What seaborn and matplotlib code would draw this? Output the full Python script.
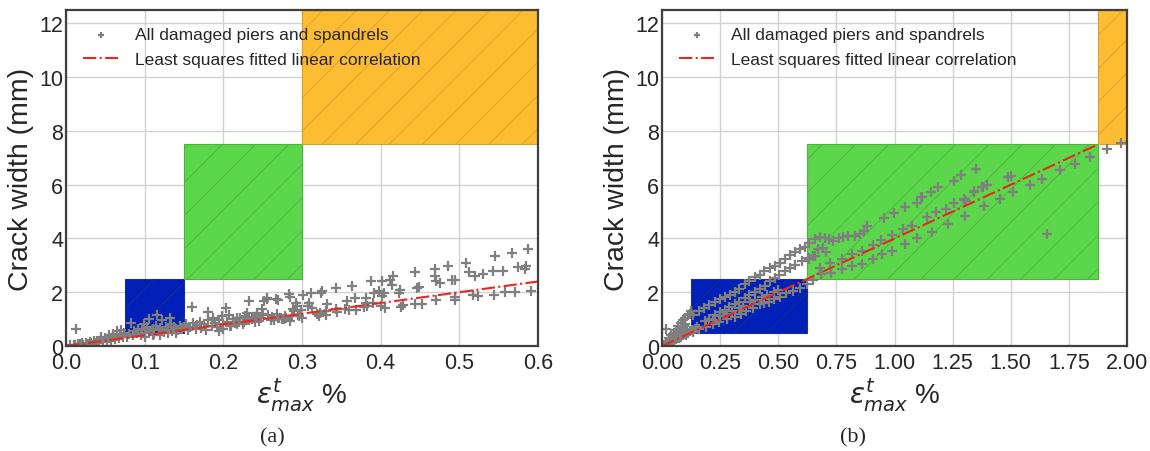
import numpy as np
import pandas as pd
import matplotlib
matplotlib.use("Agg")
import matplotlib.pyplot as plt
from matplotlib.patches import Rectangle
import seaborn as sns

# ---------------------------------------------------------------- data
# (a) maximum tensile strain (%) vs crack width (mm)
strain_a = [
    0.005, 0.010, 0.012, 0.015, 0.018, 0.020, 0.022, 0.025, 0.028, 0.030, 0.032, 0.035,
    0.037, 0.040, 0.042, 0.045, 0.047, 0.050, 0.052, 0.055, 0.057, 0.060, 0.062, 0.065,
    0.067, 0.070, 0.072, 0.074, 0.045, 0.055, 0.065, 0.070, 0.060, 0.013,
    0.078, 0.080, 0.082, 0.085, 0.087, 0.090, 0.092, 0.095, 0.097, 0.099, 0.100, 0.103,
    0.105, 0.107, 0.110, 0.112, 0.115, 0.116, 0.118, 0.120, 0.122, 0.125, 0.127, 0.130,
    0.132, 0.133, 0.135, 0.137, 0.140, 0.142, 0.145, 0.147, 0.150, 0.100, 0.110, 0.120,
    0.130, 0.140,
    0.152, 0.155, 0.157, 0.160, 0.162, 0.165, 0.167, 0.170, 0.172, 0.175, 0.178, 0.180,
    0.181, 0.185, 0.187, 0.190, 0.192, 0.195, 0.198, 0.200, 0.203, 0.205, 0.207, 0.210,
    0.212, 0.215, 0.218, 0.220, 0.221, 0.225, 0.228, 0.230, 0.232, 0.233, 0.236, 0.240,
    0.243, 0.245, 0.248, 0.250, 0.252, 0.255, 0.256, 0.257, 0.260, 0.262, 0.265, 0.267,
    0.269, 0.270, 0.271, 0.275, 0.278, 0.280, 0.283, 0.285, 0.287, 0.290, 0.292, 0.295,
    0.299, 0.300, 0.249, 0.243, 0.237, 0.232, 0.226, 0.217, 0.209, 0.200, 0.194, 0.294,
    0.289, 0.296, 0.285, 0.277, 0.268,
    0.587, 0.567, 0.545, 0.509, 0.486, 0.469, 0.444, 0.416, 0.412, 0.402, 0.388, 0.364,
    0.343, 0.326, 0.324, 0.311, 0.301,
    0.585, 0.583, 0.575, 0.556, 0.543, 0.530, 0.520, 0.512, 0.495, 0.491, 0.475, 0.471,
    0.469, 0.449, 0.446, 0.425, 0.415, 0.404, 0.398, 0.391, 0.381, 0.367, 0.357,
    0.591, 0.571, 0.558, 0.544, 0.524, 0.518, 0.495, 0.494, 0.471, 0.452, 0.444, 0.429,
    0.426, 0.405, 0.400, 0.423, 0.402, 0.390, 0.383, 0.381, 0.379, 0.369, 0.360, 0.355,
    0.345, 0.343, 0.332, 0.331, 0.322, 0.330, 0.323, 0.319, 0.313, 0.309, 0.308,
]
crack_a = [
    0.02, 0.05, 0.03, 0.08, 0.06, 0.10, 0.05, 0.12, 0.09, 0.14, 0.10, 0.18,
    0.12, 0.20, 0.15, 0.25, 0.18, 0.28, 0.20, 0.30, 0.24, 0.34, 0.27, 0.38,
    0.30, 0.42, 0.33, 0.50, 0.35, 0.40, 0.55, 0.60, 0.45, 0.63,
    0.35, 0.45, 0.87, 0.40, 0.55, 0.50, 0.65, 0.42, 0.60, 0.80, 0.50, 0.70,
    1.00, 0.55, 0.62, 0.45, 0.75, 1.16, 0.58, 0.68, 0.96, 0.52, 0.72, 0.60,
    1.03, 0.80, 0.55, 0.70, 0.65, 0.58, 0.75, 0.62, 0.70, 0.35, 0.40, 0.42,
    0.48, 0.50,
    0.80, 0.60, 0.72, 1.44, 0.85, 0.65, 0.78, 0.90, 0.68, 0.82, 0.60, 0.95,
    1.27, 0.75, 1.05, 0.85, 0.70, 0.95, 1.10, 0.80, 1.43, 0.90, 1.16, 0.75,
    1.00, 0.85, 1.05, 0.90, 1.03, 0.82, 1.10, 1.22, 1.66, 0.95, 1.00, 0.88,
    1.15, 0.92, 1.05, 1.20, 1.67, 1.77, 1.74, 1.16, 0.98, 1.08, 0.95, 1.73,
    1.72, 1.05, 1.03, 1.00, 1.12, 1.03, 1.93, 1.84, 1.10, 1.30, 1.60, 1.15,
    1.34, 1.05, 1.36, 1.24, 1.09, 0.99, 0.90, 0.81, 0.75, 0.63, 0.56, 1.48,
    1.36, 1.12, 0.93, 1.02, 1.18,
    3.60, 3.45, 3.33, 3.10, 2.98, 2.87, 2.76, 2.60, 2.45, 2.43, 2.43, 2.25,
    2.16, 2.03, 1.96, 1.98, 1.88,
    2.97, 2.88, 2.93, 2.78, 2.78, 2.68, 2.59, 2.74, 2.46, 2.44, 2.34, 2.40,
    2.59, 2.21, 2.16, 2.09, 2.28, 1.97, 2.04, 1.98, 1.79, 1.79, 1.67,
    2.05, 2.00, 2.01, 1.90, 1.86, 1.90, 1.84, 1.72, 1.71, 1.57, 1.58, 1.52,
    1.46, 1.40, 1.49, 1.96, 1.86, 1.59, 1.47, 1.61, 1.46, 1.33, 1.34, 1.36,
    1.28, 1.39, 1.55, 1.16, 1.10, 1.30, 1.24, 1.18, 1.42, 1.61, 1.47,
]

# (b) maximum tensile strain (%) vs crack width (mm)
strain_b = [
    0.010, 0.015, 0.020, 0.025, 0.030, 0.035, 0.040, 0.045, 0.050, 0.055, 0.060, 0.065,
    0.070, 0.075, 0.080, 0.085, 0.090, 0.095, 0.100, 0.017, 0.030, 0.040, 0.050, 0.060,
    0.070, 0.080, 0.090, 0.100, 0.110, 0.120, 0.132, 0.125, 0.040, 0.050, 0.060, 0.070,
    0.080, 0.090, 0.100, 0.110, 0.120, 0.130, 0.140, 0.150,
    0.161, 0.180, 0.200, 0.226, 0.250, 0.269, 0.291, 0.312, 0.330, 0.355, 0.374, 0.399,
    0.420, 0.440, 0.463, 0.485, 0.506, 0.528, 0.550, 0.571, 0.593, 0.614, 0.634, 0.656,
    0.678, 0.700, 0.720, 0.736, 0.760, 0.779, 0.800, 0.830, 0.851, 0.869, 0.880,
    0.183, 0.200, 0.226, 0.250, 0.269, 0.290, 0.312, 0.330, 0.355, 0.375, 0.399, 0.420,
    0.442, 0.463, 0.485, 0.505, 0.528, 0.550, 0.571, 0.600, 0.629, 0.650, 0.671, 0.692,
    0.707, 0.656, 0.634,
    0.678, 0.721, 0.772, 0.815, 0.859, 0.907, 0.941, 0.989, 1.037, 1.076, 1.138, 1.178,
    1.221, 1.254, 1.308, 1.304, 1.343, 1.377, 1.399, 1.486, 1.503, 1.340, 1.379,
    0.953, 0.999, 1.047, 1.095, 1.117, 1.159, 1.189, 1.257, 1.286, 1.352, 1.112, 1.300,
    0.046, 0.075, 0.104, 0.132, 0.160, 0.190, 0.220, 0.247, 0.280, 0.315, 0.340, 0.362,
    0.390, 0.420, 0.440, 0.460, 0.480, 0.506, 0.535, 0.564, 0.593, 0.622, 0.650, 0.685,
    0.728, 0.772, 0.815, 0.859, 0.907, 0.946, 0.989, 1.047, 1.095, 1.163, 1.228, 1.304,
    1.384, 1.452, 1.510, 1.583, 1.633, 1.710, 1.775, 1.841, 1.913, 1.975, 1.657,
    0.250, 0.300, 0.350, 0.400, 0.450, 0.500, 0.220, 0.280, 0.330, 0.380, 0.430, 0.480,
]
crack_b = [
    0.04, 0.08, 0.10, 0.12, 0.15, 0.20, 0.22, 0.28, 0.30, 0.35, 0.40, 0.42,
    0.50, 0.55, 0.60, 0.65, 0.70, 0.75, 0.80, 0.62, 0.30, 0.40, 0.50, 0.60,
    0.75, 0.85, 0.95, 1.05, 1.15, 1.20, 1.16, 1.30, 0.15, 0.20, 0.25, 0.30,
    0.35, 0.40, 0.45, 0.50, 0.55, 0.60, 0.62, 0.70,
    1.30, 1.42, 1.52, 1.63, 1.75, 1.84, 1.90, 2.02, 2.12, 2.30, 2.42, 2.55,
    2.65, 2.78, 2.89, 2.99, 3.08, 3.22, 3.37, 3.49, 3.61, 3.70, 3.85, 3.98,
    4.04, 4.02, 3.98, 3.91, 4.00, 4.04, 4.08, 4.10, 4.16, 4.29, 4.48,
    0.93, 1.00, 1.16, 1.25, 1.34, 1.45, 1.55, 1.65, 1.78, 1.90, 2.02, 2.12,
    2.25, 2.40, 2.52, 2.65, 2.80, 2.90, 3.02, 3.15, 3.29, 3.35, 3.60, 3.66,
    3.48, 3.35, 3.23,
    2.91, 3.10, 3.23, 3.41, 3.54, 3.75, 3.95, 4.13, 4.35, 4.48, 4.79, 4.98,
    5.10, 5.33, 5.41, 5.44, 5.75, 5.90, 5.98, 6.28, 6.31, 5.73, 5.91,
    4.75, 4.95, 5.16, 5.33, 5.54, 5.73, 5.91, 6.13, 6.35, 6.60, 5.54, 5.48,
    0.22, 0.30, 0.41, 0.51, 0.62, 0.72, 0.82, 0.91, 1.00, 1.09, 1.20, 1.30,
    1.42, 1.55, 1.60, 1.65, 1.75, 1.84, 1.96, 2.05, 2.15, 2.30, 2.45, 2.66,
    2.73, 2.85, 2.98, 3.04, 3.23, 3.41, 3.54, 3.79, 4.00, 4.23, 4.54, 4.84,
    5.19, 5.48, 5.73, 5.98, 6.21, 6.54, 6.78, 7.03, 7.31, 7.54, 4.15,
    1.10, 1.30, 1.50, 1.70, 1.90, 2.10, 0.95, 1.20, 1.40, 1.62, 1.82, 2.02,
]

# damage-state ranges: (strain from, strain to, crack from, crack to)
states_a = [(0.075, 0.15, 0.5, 2.5), (0.15, 0.30, 2.5, 7.5), (0.30, 0.60, 7.5, 12.5)]
states_b = [(0.125, 0.625, 0.5, 2.5), (0.625, 1.875, 2.5, 7.5), (1.875, 2.00, 7.5, 12.5)]

# least squares slope (crack width per % strain) and fitted range
fit_slope = 4.0
fit_range_a = [0.0, 0.6]
fit_range_b = [0.0, 1.875]

xticks_a = [0.0, 0.1, 0.2, 0.3, 0.4, 0.5, 0.6]
xticks_b = [0.0, 0.25, 0.5, 0.75, 1.0, 1.25, 1.5, 1.75, 2.0]
yticks = [0, 2, 4, 6, 8, 10, 12]

# ---------------------------------------------------------------- style
sns.set_style("whitegrid", {"axes.edgecolor": "0.25", "grid.color": "0.82"})
plt.rcParams["font.family"] = ["Liberation Sans", "DejaVu Sans"]
plt.rcParams["mathtext.fontset"] = "dejavusans"
plt.rcParams["hatch.linewidth"] = 0.6

fills = ["#0020b8", "#5cd64a", "#fdbd32"]
hatch_cols = ["#1a2f8f", "#4cb43d", "#dba02a"]

fig = plt.figure(figsize=(11.5, 4.52), dpi=100)
ax_a = fig.add_axes([0.0574, 0.2323, 0.4104, 0.7434])
ax_b = fig.add_axes([0.5757, 0.2323, 0.4043, 0.7434])


def draw_panel(ax, strain, crack, states, fit_range, xticks, xfmt):
    for (x0, x1, y0, y1), fc, hc in zip(states, fills, hatch_cols):
        ax.add_patch(Rectangle((x0, y0), x1 - x0, y1 - y0, facecolor=fc,
                               edgecolor=hc, hatch="/", linewidth=0.8, zorder=1.5))
    df = pd.DataFrame({"strain": strain, "crack": crack})
    sns.scatterplot(data=df, x="strain", y="crack", ax=ax, marker="+", color="#7f7f7f",
                    s=45, linewidth=1.6, label="All damaged piers and spandrels", zorder=3)
    fit = pd.DataFrame({"strain": fit_range,
                        "crack": [fit_slope * v for v in fit_range]})
    sns.lineplot(data=fit, x="strain", y="crack", ax=ax, color="#e8281e", linestyle="-.",
                 linewidth=1.5, label="Least squares fitted linear correlation", zorder=4)
    ax.set_xlim(xticks[0], xticks[-1])
    ax.set_ylim(0, 12.5)
    ax.set_xticks(xticks)
    ax.set_xticklabels([xfmt.format(v) for v in xticks])
    ax.set_yticks(yticks)
    ax.tick_params(labelsize=15.5, colors="0.15", length=0)
    ax.tick_params(axis="x", pad=4)
    ax.tick_params(axis="y", pad=2)
    ax.set_xlabel(r"$\varepsilon^{t}_{max}$ %", fontsize=20, color="0.15", labelpad=2)
    ax.set_ylabel("Crack width (mm)", fontsize=20.5, color="0.15", labelpad=4)
    for sp in ax.spines.values():
        sp.set_linewidth(1.6)
        sp.set_zorder(5)
    ax.grid(True, linewidth=1.0)
    ax.set_axisbelow(True)
    leg = ax.legend(loc="upper left", frameon=False, fontsize=12.5, handlelength=2.0,
                    borderaxespad=0.4, labelspacing=0.55, handletextpad=1.0,
                    markerscale=0.7, borderpad=0.6)
    for t in leg.get_texts():
        t.set_color("0.15")


draw_panel(ax_a, strain_a, crack_a, states_a, fit_range_a, xticks_a, "{:.1f}")
draw_panel(ax_b, strain_b, crack_b, states_b, fit_range_b, xticks_b, "{:.2f}")

fig.text(0.2365, 0.02, "(a)", fontsize=16, family="Liberation Serif", ha="center")
fig.text(0.7417, 0.02, "(b)", fontsize=16, family="Liberation Serif", ha="center")

fig.savefig("out.png", dpi=100)
